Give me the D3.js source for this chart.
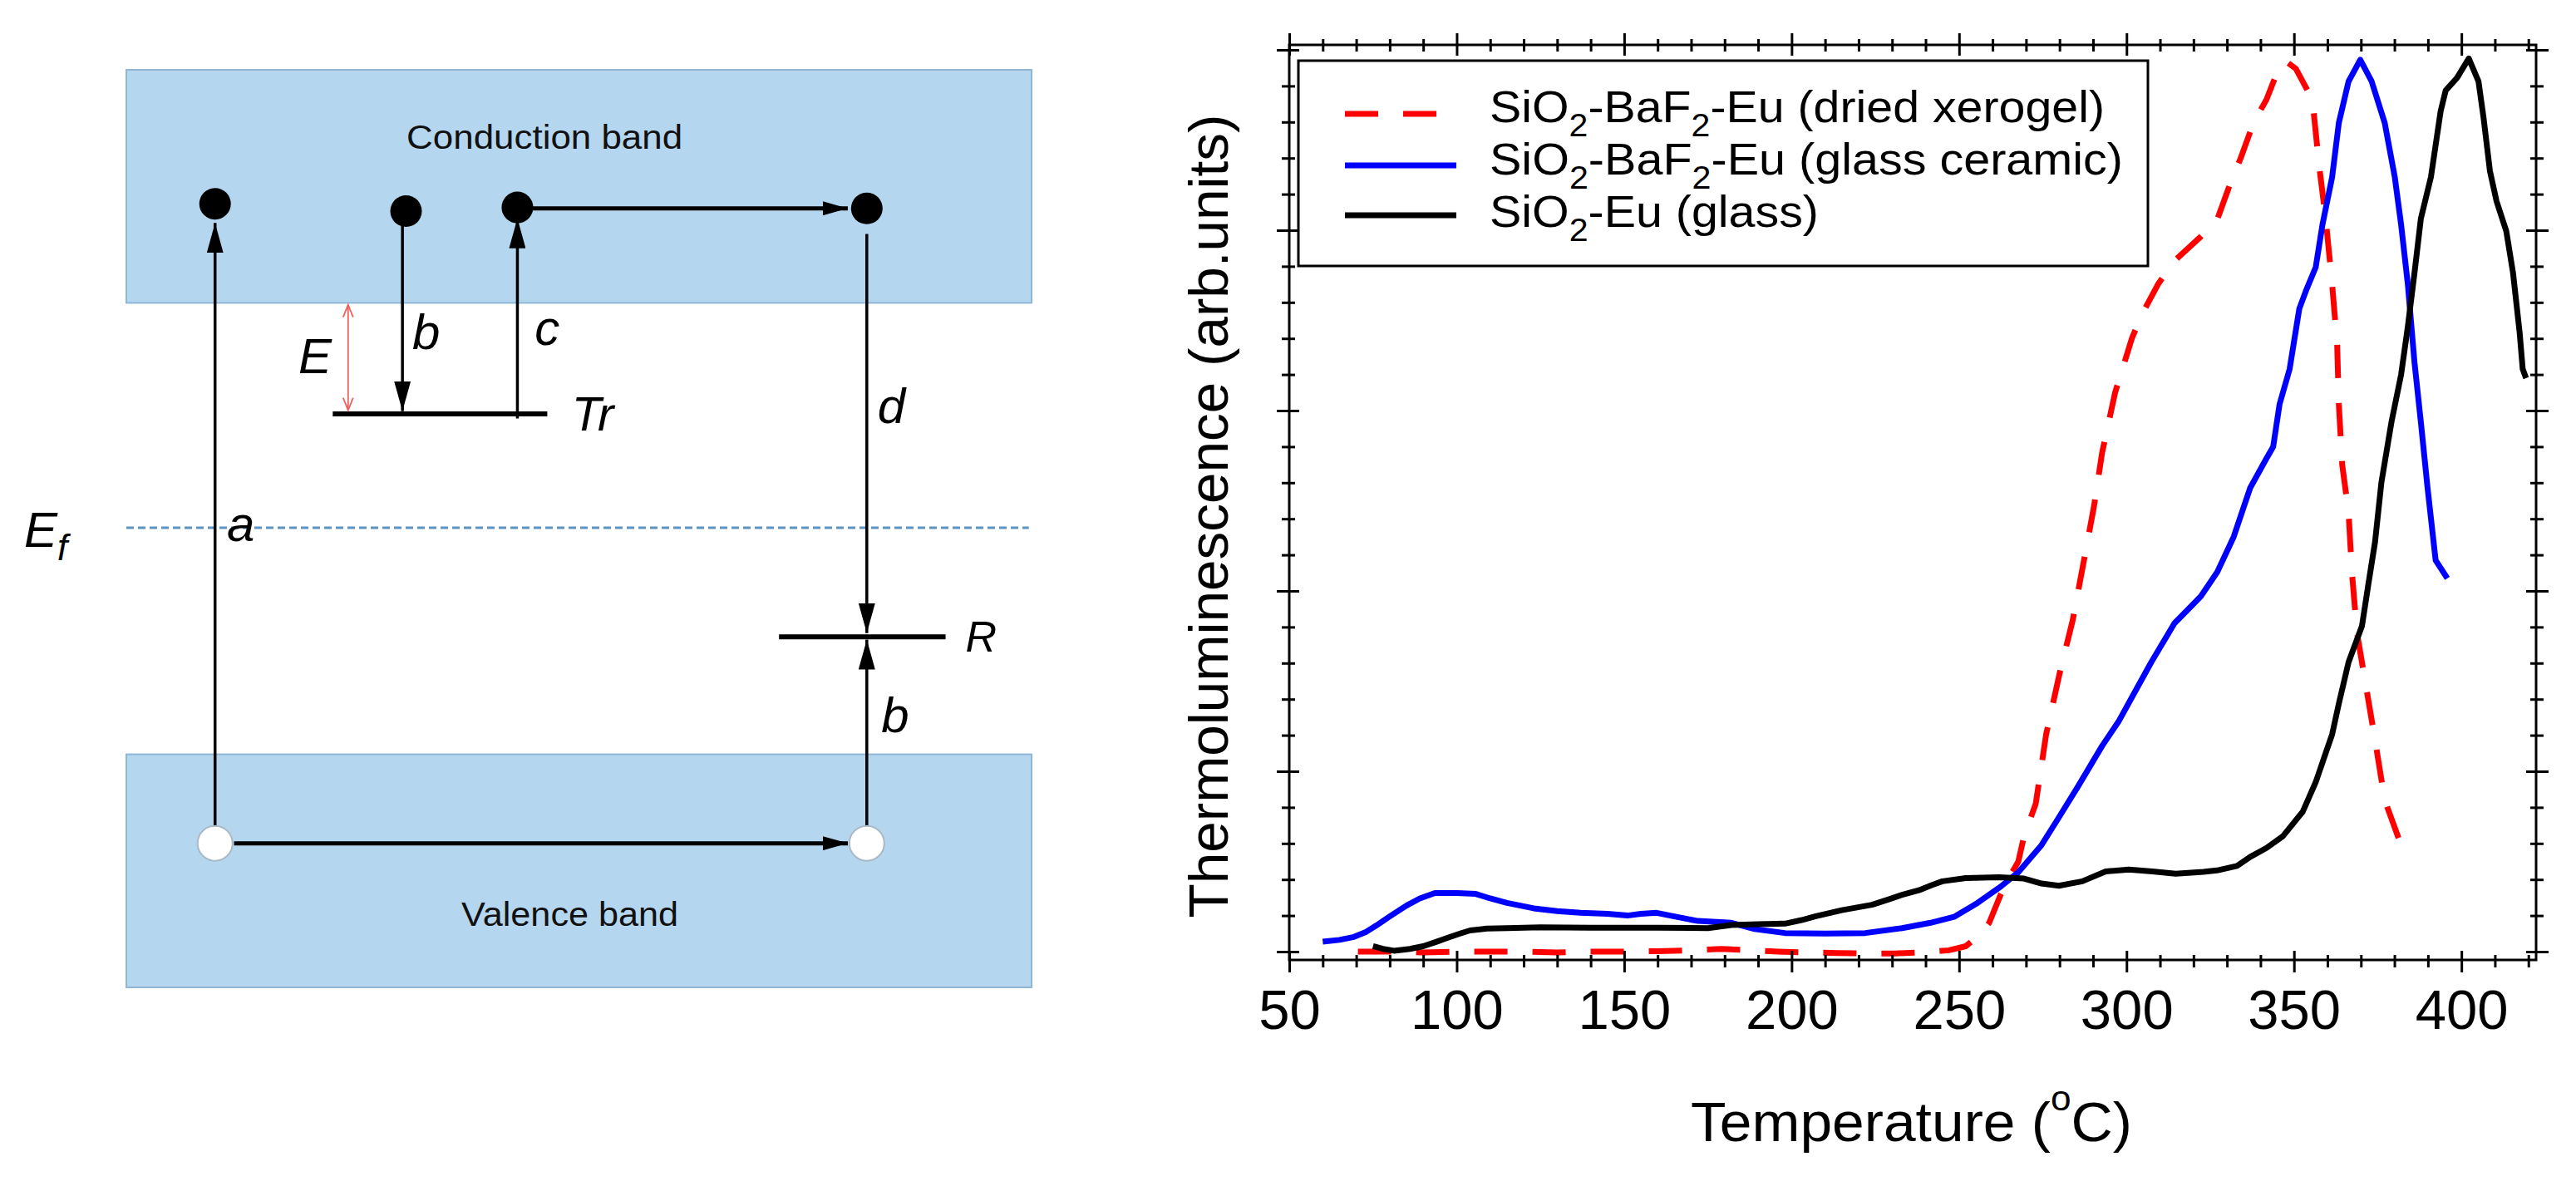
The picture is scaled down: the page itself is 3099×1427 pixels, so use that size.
<!DOCTYPE html>
<html lang="en">
<head>
<meta charset="UTF-8">
<title>Thermoluminescence glow curves</title>
<script src="https://cdn.jsdelivr.net/npm/d3@7"></script>
<style>
  body { margin: 0; background: #fff; }
  svg { display: block; }
</style>
</head>
<body>
<svg width="3099" height="1427"></svg>
<script>
// glow curves: [temperature (C), intensity (arb. units)]
var xerogel = [[70.5,0],[80,0],[90,-0.1],[100,0],[110,0],[120,0],[130,-0.1],[140,0],[150,0],[160,0.05],
  [170,0.15],[179,0.3],[188,0.15],[196,0],[205,-0.1],[214,-0.15],[222,-0.2],[231,-0.2],[240,-0.05],[247,0.15],
  [252,0.6],[256,1.8],[259,3.2],[262.4,6.3],[265,8.2],[267.7,10],[269.4,12.8],[272.9,16.4],[276,24.1],[280,30.8],
  [283.9,36.7],[287.3,43.4],[290.3,49.4],[292.7,55.3],[296.6,62],[301.6,68],[304.5,70.6],[309.4,74],[314.3,76.6],
  [322.2,79.3],[327.1,81.2],[331,85.2],[334,87.9],[337.9,91.9],[341.8,94.5],[345.7,98.2],[347.7,98.7],[350.6,97.9],
  [355.5,94.5],[357.5,87.2],[359.5,81.2],[361.4,74],[362.9,67.3],[363.4,60.7],[364.4,54],[366.3,48.7],[367.3,42.1],
  [368.8,35.4],[371.2,30.1],[374.2,23.5],[377.1,16.8],[382,11.8],[385,10.8]];

var ceramic = [[60,1.1],[65,1.3],[69,1.6],[73,2.2],[76,2.9],[80,3.9],[85,5.1],[89,5.9],[93.5,6.5],[100,6.5],
  [105.7,6.4],[110,5.9],[115,5.4],[123,4.8],[130,4.5],[137,4.3],[145,4.2],[151,4.0],[155,4.2],[159.7,4.3],[165,3.9],
  [172,3.4],[182,3.2],[189,2.5],[198,2.06],[210,2.0],[222,2.06],[233,2.6],[241.5,3.2],[248.5,3.85],[255.5,5.4],
  [262.4,7.2],[267.7,8.8],[274.6,11.8],[279.5,14.7],[285.5,18.3],[292.7,22.8],[297.6,25.5],[302.5,28.8],[307.4,32.1],
  [314.3,36.4],[322.2,39.4],[327.1,42.1],[332,46],[336.9,51.4],[341.8,54.7],[343.8,56],[345.7,60.7],[348.7,64.6],
  [351.6,71.3],[353.6,73.3],[356.5,75.9],[358.5,80.6],[361.4,85.9],[363.4,91.9],[366.3,96.5],[369.8,98.9],[373.2,96.5],
  [377.1,91.9],[380.1,85.9],[382,80.6],[384,74],[386,65.3],[387.9,58.7],[389.9,51.4],[392.3,43.4],[395.8,41.4]];

var glass = [[75,0.6],[78,0.3],[81.3,0.1],[86,0.3],[90,0.6],[94,1.1],[97,1.5],[101,2.0],[104,2.35],[109,2.55],
  [115,2.6],[125,2.7],[140,2.65],[160,2.65],[175,2.6],[182,2.95],[190,3.05],[198,3.1],[203,3.5],[207,3.9],[215,4.6],
  [224,5.2],[229,5.8],[233,6.3],[238,6.8],[242,7.4],[245,7.8],[252,8.15],[262,8.25],[269.4,8.1],[274.6,7.55],
  [279.8,7.3],[286.8,7.8],[293.8,8.9],[300.7,9.1],[307.7,8.9],[314.7,8.65],[323,8.85],[327,9.0],[333,9.5],[336.9,10.5],
  [341.8,11.5],[346.7,12.8],[352.6,15.5],[356.5,18.8],[361.4,24.1],[363.4,27.5],[366.3,32.1],[370.3,36.1],[372.2,40.7],
  [374.2,45.4],[376.1,52],[379.1,58.7],[382,64],[384,69.3],[386,75.3],[387.9,81.3],[390.9,85.9],[393.8,93.2],
  [395.3,95.5],[398.7,96.9],[402.2,99.05],[405.1,96.5],[406.6,92.5],[408.5,86.6],[410.5,83.2],[413.4,79.9],
  [415.4,75.3],[417.4,68.6],[418.3,64.6],[419.3,63.6]];

var xMajor = [50, 100, 150, 200, 250, 300, 350, 400];
var xMinor = d3.range(60, 421, 10).filter(function(d) { return d % 50 != 0; });
var yMajor = [0, 20, 40, 60, 80, 100];
var yMinor = d3.range(4, 100, 4).filter(function(d) { return d % 20 != 0; });

var svg = d3.select("svg");
var defs = svg.append("defs");
var chartFont = "'Liberation Sans', Arial, sans-serif";
var diagFont = "'Liberation Sans Narrow', 'Liberation Sans', Arial, sans-serif";

// ---------------- left: band diagram ----------------
var bx = d3.scaleLinear().domain([0, 1]).range([152, 1241]);
var by = d3.scaleLinear().domain([0, 1]).range([1188, 84]);

function head(id, len, wid) {
  defs.append("marker").attr("id", id)
      .attr("viewBox", (-len) + " " + (-wid / 2) + " " + len + " " + wid)
      .attr("refX", 0).attr("refY", 0)
      .attr("markerWidth", len).attr("markerHeight", wid)
      .attr("markerUnits", "userSpaceOnUse").attr("orient", "auto")
      .append("path")
      .attr("d", "M" + (-len) + "," + (-wid / 2) + "L0,0L" + (-len) + "," + (wid / 2) + "Z")
      .attr("fill", "#000");
}
head("vhead", 36, 20);
head("hhead", 30, 17);
defs.append("marker").attr("id", "openhead")
    .attr("viewBox", "-16 -8 18 16").attr("refX", 0).attr("refY", 0)
    .attr("markerWidth", 18).attr("markerHeight", 16)
    .attr("markerUnits", "userSpaceOnUse").attr("orient", "auto-start-reverse")
    .style("overflow", "visible")
    .append("path").attr("d", "M-15,-6L0,0L-15,6")
    .attr("fill", "none").attr("stroke", "#f0605e").attr("stroke-width", 1.8);

var bands = [
  {name: "Conduction band", lo: 0.746, hi: 1, tx: 0.462, ty: 0.914, w: 332},
  {name: "Valence band", lo: 0, hi: 0.254, tx: 0.490, ty: 0.067, w: 261}
];
var diag = svg.append("g");
diag.selectAll("rect.band").data(bands).join("rect")
    .attr("class", "band")
    .attr("x", bx(0)).attr("y", function(d) { return by(d.hi); })
    .attr("width", bx(1) - bx(0))
    .attr("height", function(d) { return by(d.lo) - by(d.hi); })
    .attr("fill", "#b4d6ee").attr("stroke", "#8fb6d6").attr("stroke-width", 2);
diag.selectAll("text.band").data(bands).join("text")
    .attr("class", "band")
    .attr("x", function(d) { return bx(d.tx); }).attr("y", function(d) { return by(d.ty); })
    .attr("text-anchor", "middle").attr("font-family", diagFont).attr("font-size", 40)
    .attr("textLength", function(d) { return d.w; }).attr("lengthAdjust", "spacingAndGlyphs")
    .attr("fill", "#111").text(function(d) { return d.name; });

// Fermi level
diag.append("line")
    .attr("x1", bx(0)).attr("x2", bx(0.997)).attr("y1", by(0.501)).attr("y2", by(0.501))
    .attr("stroke", "#5b93c2").attr("stroke-width", 3).attr("stroke-dasharray", "9,5");

// trap and recombination levels
var levels = [{x1: 0.228, x2: 0.465, e: 0.625}, {x1: 0.721, x2: 0.905, e: 0.382}];
diag.selectAll("line.level").data(levels).join("line")
    .attr("class", "level")
    .attr("x1", function(d) { return bx(d.x1); }).attr("x2", function(d) { return bx(d.x2); })
    .attr("y1", function(d) { return by(d.e); }).attr("y2", function(d) { return by(d.e); })
    .attr("stroke", "#000").attr("stroke-width", 6);

// transitions
var vArrows = [
  {x: 0.098, from: 0.175, to: 0.833},
  {x: 0.305, from: 0.830, to: 0.628},
  {x: 0.432, from: 0.620, to: 0.838},
  {x: 0.818, from: 0.821, to: 0.386},
  {x: 0.818, from: 0.175, to: 0.379}
];
diag.selectAll("line.varrow").data(vArrows).join("line")
    .attr("class", "varrow")
    .attr("x1", function(d) { return bx(d.x); }).attr("x2", function(d) { return bx(d.x); })
    .attr("y1", function(d) { return by(d.from); }).attr("y2", function(d) { return by(d.to); })
    .attr("stroke", "#000").attr("stroke-width", 3.5).attr("marker-end", "url(#vhead)");

var hArrows = [
  {e: 0.849, from: 0.446, to: 0.797},
  {e: 0.157, from: 0.119, to: 0.797}
];
diag.selectAll("line.harrow").data(hArrows).join("line")
    .attr("class", "harrow")
    .attr("x1", function(d) { return bx(d.from); }).attr("x2", function(d) { return bx(d.to); })
    .attr("y1", function(d) { return by(d.e); }).attr("y2", function(d) { return by(d.e); })
    .attr("stroke", "#000").attr("stroke-width", 5).attr("marker-end", "url(#hhead)");

// trap depth E
diag.append("line")
    .attr("x1", bx(0.245)).attr("x2", bx(0.245)).attr("y1", by(0.744)).attr("y2", by(0.629))
    .attr("stroke", "#f0605e").attr("stroke-width", 1.8)
    .attr("marker-start", "url(#openhead)").attr("marker-end", "url(#openhead)");

// electrons and holes
var electrons = [[0.098, 0.854], [0.309, 0.846], [0.432, 0.850], [0.818, 0.849]];
var holes = [[0.098, 0.157], [0.818, 0.157]];
diag.selectAll("circle.el").data(electrons).join("circle")
    .attr("class", "el")
    .attr("cx", function(d) { return bx(d[0]); }).attr("cy", function(d) { return by(d[1]); })
    .attr("r", 19).attr("fill", "#000");
diag.selectAll("circle.hole").data(holes).join("circle")
    .attr("class", "hole")
    .attr("cx", function(d) { return bx(d[0]); }).attr("cy", function(d) { return by(d[1]); })
    .attr("r", 21).attr("fill", "#fff").attr("stroke", "#a9b9c6").attr("stroke-width", 2);

// italic labels
var labels = [
  {t: "E", x: 0.190, e: 0.669, s: 60},
  {t: "b", x: 0.316, e: 0.696, s: 60},
  {t: "c", x: 0.451, e: 0.700, s: 60},
  {t: "Tr", x: 0.492, e: 0.607, s: 58},
  {t: "d", x: 0.830, e: 0.615, s: 60},
  {t: "a", x: 0.111, e: 0.486, s: 60},
  {t: "R", x: 0.927, e: 0.366, s: 52},
  {t: "b", x: 0.834, e: 0.278, s: 60}
];
diag.selectAll("text.lab").data(labels).join("text")
    .attr("class", "lab")
    .attr("x", function(d) { return bx(d.x); }).attr("y", function(d) { return by(d.e); })
    .attr("font-family", diagFont).attr("font-style", "italic")
    .attr("font-size", function(d) { return d.s; })
    .attr("fill", "#000").text(function(d) { return d.t; });
var ef = diag.append("text")
    .attr("x", bx(-0.113)).attr("y", by(0.480))
    .attr("font-family", diagFont).attr("font-style", "italic").attr("font-size", 60);
ef.append("tspan").text("E");
ef.append("tspan").attr("dy", 16).attr("font-size", 44).text("f");

// ---------------- right: glow curves ----------------
var x = d3.scaleLinear().domain([50, 422.3]).range([1551, 3051]);
var y = d3.scaleLinear().domain([0, 100]).range([1145, 60]);
var plot = svg.append("g");

var line = d3.line()
    .x(function(d) { return x(d[0]); })
    .y(function(d) { return y(d[1]); });

var series = [
  {name: "dried xerogel", data: xerogel, color: "#ff0000", dash: "40,30"},
  {name: "glass ceramic", data: ceramic, color: "#0000ff", dash: null},
  {name: "glass", data: glass, color: "#000000", dash: null}
];
plot.selectAll("path.curve").data(series).join("path")
    .attr("class", "curve")
    .attr("d", function(d) { return line(d.data); })
    .attr("fill", "none")
    .attr("stroke", function(d) { return d.color; })
    .attr("stroke-width", 7)
    .attr("stroke-linejoin", "round")
    .attr("stroke-dasharray", function(d) { return d.dash; });

// frame
plot.append("rect")
    .attr("x", x(50)).attr("y", 54).attr("width", x(422.3) - x(50)).attr("height", 1101)
    .attr("fill", "none").attr("stroke", "#000").attr("stroke-width", 3);

// ticks crossing the frame on all four sides
function crossTicks(axis, pos, tx, ty, vals, inner, outer, labelled, k) {
  var g = plot.append("g").attr("transform", "translate(" + tx + "," + ty + ")")
      .call(axis.tickValues(vals).tickSizeInner(inner).tickSizeOuter(0)
        .tickPadding(20).tickFormat(labelled ? d3.format("d") : ""));
  g.select(".domain").remove();
  g.selectAll(".tick line").attr("stroke", "#000").attr("stroke-width", 3)
      .attr(pos, -k * outer);
  g.selectAll(".tick text").attr("font-family", chartFont).attr("font-size", 67).attr("fill", "#000");
  return g;
}
crossTicks(d3.axisBottom(x), "y1", 0, 1155, xMajor, 15, 11, true, 1);
crossTicks(d3.axisBottom(x), "y1", 0, 1155, xMinor, 9, 6, false, 1);
crossTicks(d3.axisTop(x), "y1", 0, 54, xMajor.concat([]), 14, 13, false, -1);
crossTicks(d3.axisTop(x), "y1", 0, 54, xMinor, 7, 8, false, -1);
crossTicks(d3.axisLeft(y), "x1", 1551, 0, yMajor, 15, 12, false, -1);
crossTicks(d3.axisLeft(y), "x1", 1551, 0, yMinor, 9, 7, false, -1);
crossTicks(d3.axisRight(y), "x1", 3051, 0, yMajor, 15, 12, false, 1);
crossTicks(d3.axisRight(y), "x1", 3051, 0, yMinor, 9, 7, false, 1);

// axis titles
var xt = plot.append("text")
    .attr("x", 2034).attr("y", 1373)
    .attr("font-family", chartFont).attr("font-size", 66)
    .attr("textLength", 531).attr("lengthAdjust", "spacingAndGlyphs");
xt.append("tspan").text("Temperature (");
xt.append("tspan").attr("dy", -37).attr("font-size", 42).text("o");
xt.append("tspan").attr("dy", 37).text("C)");

plot.append("text")
    .attr("transform", "translate(1477,621) rotate(-90)")
    .attr("text-anchor", "middle")
    .attr("font-family", chartFont).attr("font-size", 67)
    .attr("textLength", 967).attr("lengthAdjust", "spacingAndGlyphs")
    .text("Thermoluminescence (arb.units)");

// legend
var legendItems = [
  {parts: [["SiO", 0], ["2", 1], ["-BaF", 0], ["2", 1], ["-Eu (dried xerogel)", 0]], w: 740, y: 147, ly: 137, len: 110},
  {parts: [["SiO", 0], ["2", 1], ["-BaF", 0], ["2", 1], ["-Eu (glass ceramic)", 0]], w: 762, y: 210, ly: 199, len: 134},
  {parts: [["SiO", 0], ["2", 1], ["-Eu (glass)", 0]], w: 396, y: 273, ly: 259, len: 134}
];
var legend = plot.append("g");
legend.append("rect")
    .attr("x", 1562).attr("y", 73).attr("width", 1022).attr("height", 247)
    .attr("fill", "#fff").attr("stroke", "#000").attr("stroke-width", 3);
legendItems.forEach(function(item, i) {
  var s = series[i];
  legend.append("line")
      .attr("x1", 1618).attr("x2", 1618 + item.len).attr("y1", item.ly).attr("y2", item.ly)
      .attr("stroke", s.color).attr("stroke-width", 7).attr("stroke-dasharray", s.dash);
  var t = legend.append("text")
      .attr("x", 1792).attr("y", item.y)
      .attr("font-family", chartFont).attr("font-size", 53)
      .attr("textLength", item.w).attr("lengthAdjust", "spacingAndGlyphs");
  var sub = 0;
  item.parts.forEach(function(p) {
    var dy = p[1] ? 17 - sub : -sub;
    sub = p[1] ? 17 : 0;
    t.append("tspan").attr("dy", dy).attr("font-size", p[1] ? 38 : 53).text(p[0]);
  });
});
</script>
</body>
</html>
